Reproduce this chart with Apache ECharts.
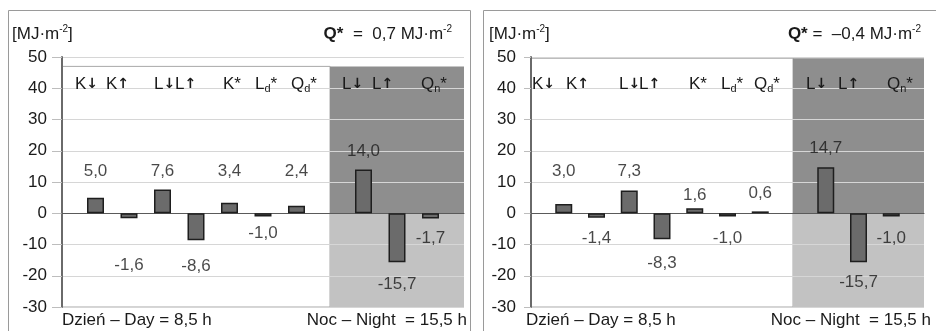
<!DOCTYPE html>
<html><head><meta charset="utf-8">
<script src="https://cdn.jsdelivr.net/npm/echarts@6/dist/echarts.min.js"></script>
<style>html,body{margin:0;padding:0;background:#fff}#c{width:936px;height:331px}</style>
</head><body><div id="c"></div>
<script>
// ---------- data ----------
const slots = ['0','1','2','3','4','5','6','7','8','9','10','11','12'];
const categories = ['K↓','K↑','L↓','L↑','K*','L_d*','Q_d*','L↓','L↑','Q_n*'];
const valuesA = [5.0, -1.6, 7.6, -8.6, 3.4, -1.0, 2.4, 14.0, -15.7, -1.7];
const valuesB = [3.0, -1.4, 7.3, -8.3, 1.6, -1.0, 0.6, 14.7, -15.7, -1.0];
const netA = '0,7';
const netB = '–0,4';
const dayText = 'Dzień – Day = 8,5 h';
const nightText = 'Noc – Night  = 15,5 h';

// ---------- layout ----------
const slotIndex = [1,2,3,4,5,6,7,9,10,11];
const nightStart = 8, slotEnd = 12;
const FONT = 'Liberation Sans, Arial, sans-serif';
const panels = [
  { values: valuesA, net: '{b|Q*}  =  ' + netA + ' MJ·m{sup|-2}',
    gridLeft: 62, gridWidth: 402, boxTop: 47, tickLen: 10,
    labelY: [13.4, -16.5, 13.4, -17, 13.4, -6.3, 13.4, 19.8, -22.6, -7.9],
    catX: [75, 106, 154, 175, 223, 255, 291, 342, 372, 421],
    frame: {x: 8.5, y: 10.5, width: 462, height: 400},
    unitLeft: 12, netRight: 484, dayLeft: 62, nightRight: 469 },
  { values: valuesB, net: '{b|Q*} =  ' + netB + ' MJ·m{sup|-2}',
    gridLeft: 531, gridWidth: 393, boxTop: 49.6, tickLen: 7,
    labelY: [13.4, -7.9, 13.4, -16, 5.6, -7.9, 6.5, 20.9, -22.2, -7.9],
    catX: [532, 566, 619, 639, 689, 721, 754, 806, 838, 887],
    frame: {x: 483.5, y: 10.5, width: 600, height: 400},
    unitLeft: 489, netRight: 15, dayLeft: 526, nightRight: 5 }
];

const fmt = v => v.toFixed(1).replace('.', ',');
const richLabel = s => s.replace(/_(\w)/g, '{s|$1}').replace(/([↓↑])/g, '{a|$1}');

const TXT = '#1a1a1a';
const baseText = { fontFamily: FONT, fontSize: 17, fontWeight: 'normal', color: TXT, lineHeight: 20,
  rich: {
    s: { fontFamily: FONT, fontSize: 11, fontWeight: 'normal', color: TXT, verticalAlign: 'bottom', lineHeight: 20 },
    sup: { fontFamily: FONT, fontSize: 10, fontWeight: 'normal', color: TXT, verticalAlign: 'top', lineHeight: 20 },
    b: { fontFamily: FONT, fontSize: 17, fontWeight: 'bold', color: TXT, lineHeight: 20 },
    a: { fontFamily: 'DejaVu Sans', fontSize: 14, fontWeight: 'bold', color: TXT, lineHeight: 20 }
  } };

const grid = [], xAxis = [], yAxis = [], series = [], title = [], graphic = [];

panels.forEach((p, i) => {
  grid.push({ left: p.gridLeft, width: p.gridWidth, top: 57, height: 250 });
  xAxis.push({ type: 'category', gridIndex: i, data: slots, boundaryGap: false, z: 1.8,
    axisLabel: { show: false }, axisTick: { show: false },
    axisLine: { show: true, onZero: true, lineStyle: { color: '#5a5a5a', width: 1 } } });
  yAxis.push({ type: 'value', gridIndex: i, min: -30, max: 50, interval: 10, z: 1.5,
    axisLine: { show: true, lineStyle: { color: '#6a6a6a', width: 2 } },
    axisTick: { show: true, length: p.tickLen, lineStyle: { color: '#bdbdbd' } },
    splitLine: { show: true, lineStyle: { color: '#d6d6d6', width: 1 } },
    axisLabel: { margin: 15, fontFamily: FONT, fontSize: 17, color: TXT } });

  const rectEl = (api, x0, y0, x1, y1, style) => {
    const a = api.coord([x0, y0]), b = api.coord([x1, y1]);
    return { type: 'rect', shape: { x: Math.min(a[0], b[0]), y: Math.min(a[1], b[1]),
      width: Math.abs(b[0] - a[0]), height: Math.abs(b[1] - a[1]) }, style };
  };

  // background boxes (day / night above zero / night below zero)
  series.push({ type: 'custom', xAxisIndex: i, yAxisIndex: i, data: [[0, 0]], silent: true, z: 1,
    renderItem: (params, api) => ({ type: 'group', children: [
      rectEl(api, 0, p.boxTop, nightStart, -30, { fill: '#ffffff', stroke: '#a8a8a8', lineWidth: 1 }),
      rectEl(api, nightStart, p.boxTop, slotEnd, 0, { fill: '#8e8e8e' }),
      rectEl(api, nightStart, 0, slotEnd, -30, { fill: '#c2c2c2' })
    ] }) });

  // bars
  const barData = slots.map(() => '-');
  p.values.forEach((v, k) => { barData[slotIndex[k]] = v; });
  series.push({ type: 'bar', xAxisIndex: i, yAxisIndex: i, data: barData, barWidth: 17, z: 2,
    itemStyle: { color: '#6b6b6b', borderColor: '#1e1e1e', borderWidth: 1.5 } });

  // value labels
  series.push({ type: 'scatter', xAxisIndex: i, yAxisIndex: i, symbolSize: 0, z: 4, silent: true,
    data: p.labelY.map((y, k) => [slotIndex[k], y, p.values[k]]),
    label: { show: true, position: 'inside', fontFamily: FONT, fontSize: 17, color: TXT,
      formatter: q => fmt(q.value[2]) } });

  // texts
  title.push({ text: '[MJ·m{sup|-2}]', left: p.unitLeft, top: 24, padding: 0, textStyle: baseText });
  title.push({ text: p.net, right: p.netRight, top: 24, padding: 0, textStyle: baseText });
  title.push({ text: dayText, left: p.dayLeft, top: 310, padding: 0, textStyle: baseText });
  title.push({ text: nightText, right: p.nightRight, top: 310, padding: 0, textStyle: baseText });
  categories.forEach((c, k) => {
    title.push({ text: richLabel(c), left: p.catX[k], top: 74, padding: 0, textStyle: baseText });
  });

  graphic.push({ type: 'rect', silent: true, z: 10, shape: p.frame,
    style: { fill: 'none', stroke: '#9a9a9a', lineWidth: 1 } });
});

const chart = echarts.init(document.getElementById('c'), null, { renderer: 'canvas' });
chart.setOption({ animation: false, backgroundColor: '#fff', grid, xAxis, yAxis, series, title, graphic });
</script>
</body></html>
